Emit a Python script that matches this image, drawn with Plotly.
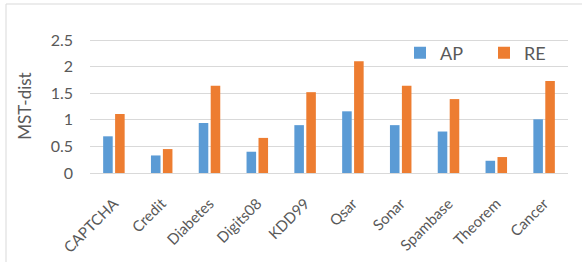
import plotly.graph_objects as go

categories = ["CAPTCHA", "Credit", "Diabetes", "Digits08", "KDD99", "Qsar", "Sonar", "Spambase", "Theorem", "Cancer"]
ap_values = [0.69, 0.33, 0.94, 0.40, 0.90, 1.16, 0.90, 0.78, 0.23, 1.01]
re_values = [1.11, 0.45, 1.64, 0.66, 1.52, 2.10, 1.64, 1.39, 0.30, 1.73]
y_ticks = [0, 0.5, 1, 1.5, 2, 2.5]
y_tick_labels = ["0", "0.5", "1", "1.5", "2", "2.5"]

FONT = "Lato"
TXT = "#595959"
GRID = "#D9D9D9"

W, H = 582, 262
L, R, T, B = 90, 14, 39, 89

fig = go.Figure()
fig.add_trace(go.Bar(name="AP", x=categories, y=ap_values, legend="legend",
                     marker=dict(color="#5B9BD5", line=dict(width=0))))
fig.add_trace(go.Bar(name="RE", x=categories, y=re_values, legend="legend2",
                     marker=dict(color="#ED7D31", line=dict(width=0))))

pw = W - L - R
ph = H - T - B

def px_x(x):
    return (x - L) / pw

def px_y(y):
    return (H - B - y) / ph

fig.add_shape(type="rect", xref="paper", yref="paper",
              x0=px_x(6), x1=px_x(590), y0=px_y(270), y1=px_y(4),
              line=dict(color=GRID, width=1), fillcolor="rgba(0,0,0,0)", layer="below")

leg_common = dict(orientation="h", yanchor="middle", xanchor="left",
                  font=dict(size=18, color=TXT, family=FONT), bgcolor="rgba(0,0,0,0)")

fig.update_layout(
    width=W, height=H,
    margin=dict(l=L, r=R, t=T, b=B, autoexpand=False),
    paper_bgcolor="white", plot_bgcolor="white",
    barmode="group", bargap=0.5, bargroupgap=0.2,
    font=dict(family=FONT, color=TXT, size=16),
    showlegend=True,
    legend=dict(x=px_x(400), y=px_y(53), **leg_common),
    legend2=dict(x=px_x(484), y=px_y(53), **leg_common),
    xaxis=dict(showgrid=False, showline=True, linecolor=GRID, linewidth=1, tickangle=-45,
               tickfont=dict(size=15, color=TXT, family=FONT), ticks="", ticklabelstandoff=15),
    yaxis=dict(range=[0, 2.52], tickvals=y_ticks, ticktext=y_tick_labels, showgrid=True,
               gridcolor=GRID, gridwidth=1, zeroline=False, showline=False, ticks="",
               tickfont=dict(size=16, color=TXT, family=FONT), ticklabelstandoff=16,
               title=dict(text="MST-dist", font=dict(size=17, color=TXT, family=FONT), standoff=14)),
)

fig.write_html("out.html", config={"displayModeBar": False},
               post_script="document.body.style.margin='0px';")
